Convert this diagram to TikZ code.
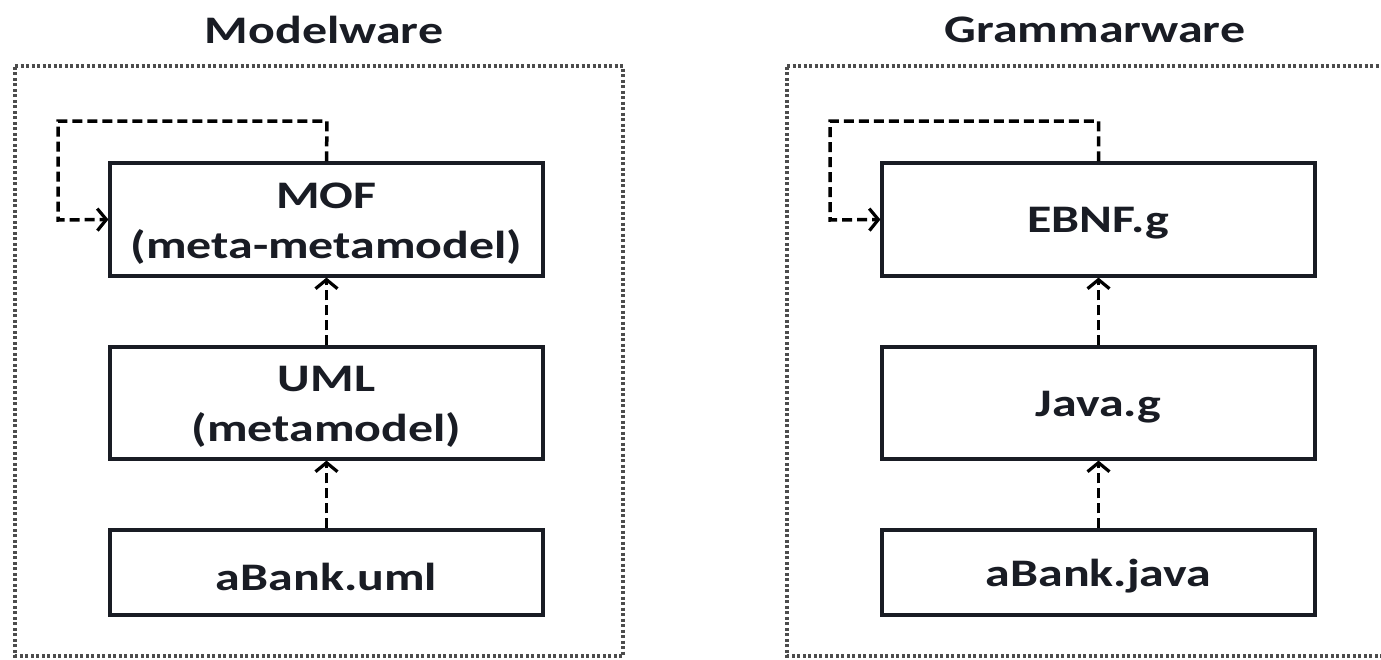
\documentclass[tikz,border=0pt]{standalone}
\usepackage{fontspec}
\usepackage{graphicx}
\setmainfont{Carlito}
\usetikzlibrary{arrows.meta}
\definecolor{ink}{rgb}{0.10,0.11,0.14}
\newcommand{\wx}[1]{\scalebox{1.28}[1]{#1}}
\newcommand{\wlow}[1]{\raisebox{-4pt}[\height][\depth]{\scalebox{1.28}[1]{#1}}}
\begin{document}
\begin{tikzpicture}[x=1pt,y=-1pt,
  frame/.style={draw=black!70, line width=3.2pt, dash pattern=on 3pt off 2.5pt},
  boxn/.style={draw=ink, line width=3.2pt, fill=white, minimum width=433pt, align=center, inner sep=0pt, font=\fontsize{39}{50}\selectfont\bfseries, text=ink},
  title/.style={font=\fontsize{39}{42}\selectfont\bfseries, text=ink},
  dep/.style={draw=black, line width=3.5pt, dash pattern=on 10pt off 5pt, -{Straight Barb[length=9pt,width=22pt,line width=3.2pt]}}
]
\useasboundingbox (0,0) rectangle (1381,659);
% frames
\draw[frame] (15,66) -- (623,66) -- (623,656) -- (15,656) -- cycle;
\draw[frame] (787,66) -- (1395,66) -- (1395,656) -- (787,656) -- cycle;
\node[title] (t1) at (324,30) {\wx{Modelware}};
\node[title] (t2) at (1095,30) {\wx{Grammarware}};
% left
\node[boxn, minimum height=113pt] (mof) at (326.5,219.5) {\wlow{MOF}\\\wlow{(meta-metamodel)}};
\node[boxn, minimum height=112pt] (uml) at (326.5,403) {\wlow{UML}\\\wlow{(metamodel)}};
\node[boxn, minimum height=85pt] (ab) at (326.5,572.5) {\wlow{aBank.uml}};
\draw[dep] (ab.north) -- (uml.south);
\draw[dep] (uml.north) -- (mof.south);
\coordinate (l1) at (58,121);
\draw[dep] (mof.north) -- (327,121) -- (l1) -- (58,220) -- (mof.west);
% right
\node[boxn, minimum height=113pt] (ebnf) at (1098.5,219.5) {\wlow{EBNF.g}};
\node[boxn, minimum height=112pt] (java) at (1098.5,403) {\wlow{Java.g}};
\node[boxn, minimum height=85pt] (abj) at (1098.5,572.5) {\wlow{aBank.java}};
\draw[dep] (abj.north) -- (java.south);
\draw[dep] (java.north) -- (ebnf.south);
\coordinate (r1) at (830,121);
\draw[dep] (ebnf.north) -- (1098.5,121) -- (r1) -- (830,220) -- (ebnf.west);
\end{tikzpicture}
\end{document}
